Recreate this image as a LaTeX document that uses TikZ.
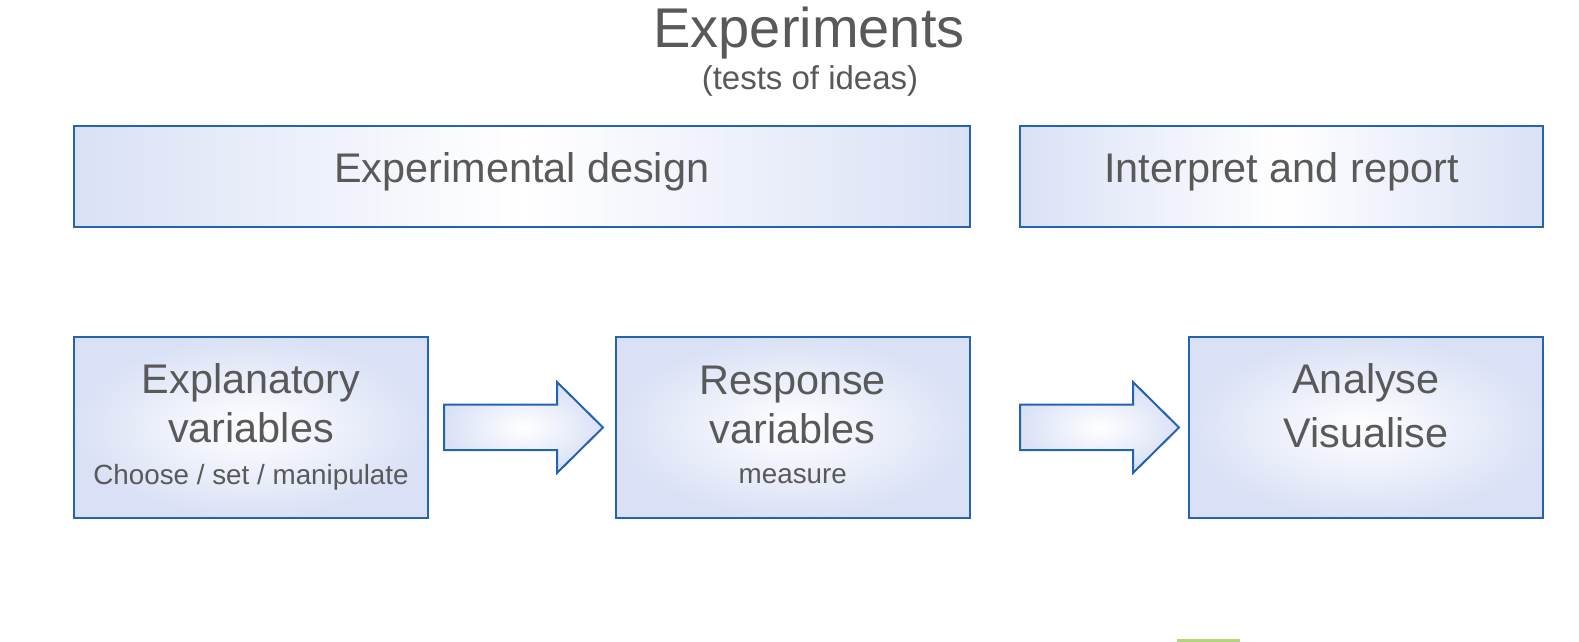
\documentclass[tikz,border=0pt]{standalone}
\usepackage{fontspec}
\setmainfont{Liberation Sans}
\usetikzlibrary{fit}
\definecolor{txt}{HTML}{595959}
\definecolor{bord}{HTML}{2462B2}
\definecolor{edgecol}{HTML}{DAE1F6}
\definecolor{greenbar}{HTML}{B4D47C}
\begin{document}
\begin{tikzpicture}[x=0.5pt,y=-0.5pt,
  box/.style={draw=bord, line width=1pt, inner color=white, outer color=edgecol, inner sep=0pt, rectangle},
  widebox/.style={draw=bord, line width=1pt, left color=edgecol, right color=edgecol, middle color=white, inner sep=0pt, rectangle},
  arr/.style={draw=bord, line width=1pt, inner color=white, outer color=edgecol, line join=miter},
  t/.style={text=txt, inner sep=0pt, anchor=base},
  big/.style={t, font=\fontsize{20.7}{24}\selectfont},
  small/.style={t, font=\fontsize{13.9}{16}\selectfont}]
\useasboundingbox (0,0) rectangle (1579,642);
% boxes
\node[widebox, fit={(74,126) (969.5,226.5)}] (design) {};
\node[widebox, fit={(1020,126) (1543,226.5)}] (report) {};
\node[box, fit={(74,337) (428,517.5)}] (expl) {};
\node[box, fit={(616,337) (969.5,517.5)}] (resp) {};
\node[box, fit={(1189,337) (1543,517.5)}] (anal) {};
% block arrows
\path[arr] (444,404.5) -- (557,404.5) -- (557,382) -- (603,427.5) -- (557,473) -- (557,450) -- (444,450) -- cycle;
\path[arr] (1020,404.5) -- (1133,404.5) -- (1133,382) -- (1179,427.5) -- (1133,473) -- (1133,450) -- (1020,450) -- cycle;
% texts
\node[t, font=\fontsize{28}{33}\selectfont] (title) at (809,47.5) {Experiments};
\node[t, font=\fontsize{16.5}{19}\selectfont] (subtitle) at (810,90) {(tests of ideas)};
\node[big] (designtxt) at (521.75,183) {Experimental design};
\node[big] (reporttxt) at (1281.5,183) {Interpret and report};
\node[big] (expl1) at (251,393) {Explanatory};
\node[big] (expl2) at (251,442) {variables};
\node[small] (expl3) at (251,484) {Choose / set / manipulate};
\node[big] (resp1) at (792.75,394.5) {Response};
\node[big] (resp2) at (792.75,443) {variables};
\node[small] (resp3) at (792.75,483.5) {measure};
\node[big] (anal1) at (1366,393) {Analyse};
\node[big] (anal2) at (1366,447) {Visualise};
% partial green bar at bottom edge
\fill[greenbar] (1177,639) rectangle (1240,642);
\end{tikzpicture}
\end{document}
